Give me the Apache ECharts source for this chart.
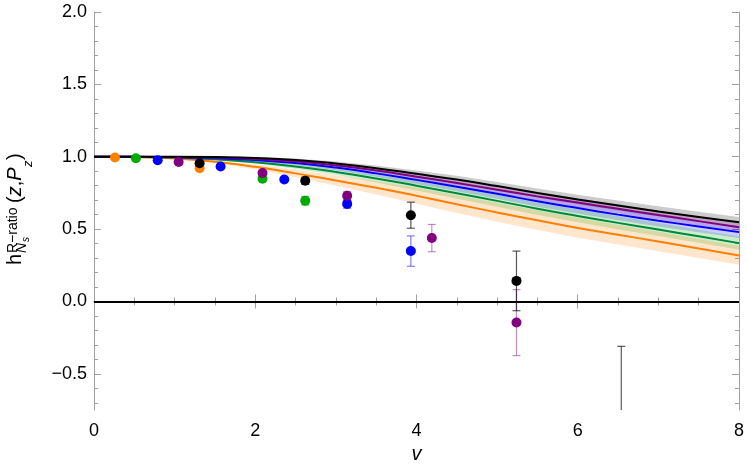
<!DOCTYPE html>
<html>
<head>
<meta charset="utf-8">
<script src="https://cdn.jsdelivr.net/npm/echarts@6/dist/echarts.min.js"></script>
<style>
  html, body { margin: 0; padding: 0; background: #fff; }
  #chart { width: 747px; height: 476px; }
</style>
</head>
<body>
<div id="chart"></div>
<script>
// model curves, sampled every 0.5 in v
const vGrid = [0, 0.5, 1, 1.5, 2, 2.5, 3, 3.5, 4, 4.5, 5, 5.5, 6, 6.5, 7, 7.5, 8];
const curveBlack  = [1.000, 1.000, 1.000, 0.998, 0.992, 0.978, 0.953, 0.921, 0.882, 0.842, 0.797, 0.750, 0.705, 0.663, 0.622, 0.584, 0.548];
const curvePurple = [1.000, 1.000, 0.998, 0.994, 0.985, 0.968, 0.940, 0.905, 0.862, 0.818, 0.772, 0.726, 0.683, 0.640, 0.597, 0.555, 0.513];
const curveBlue   = [1.000, 0.999, 0.997, 0.990, 0.977, 0.956, 0.925, 0.885, 0.840, 0.793, 0.744, 0.692, 0.645, 0.600, 0.558, 0.518, 0.479];
const curveGreen  = [1.000, 0.999, 0.994, 0.982, 0.962, 0.933, 0.895, 0.850, 0.800, 0.748, 0.695, 0.641, 0.591, 0.543, 0.497, 0.450, 0.403];
const curveOrange = [1.000, 0.998, 0.988, 0.965, 0.930, 0.885, 0.835, 0.785, 0.730, 0.672, 0.615, 0.561, 0.508, 0.461, 0.414, 0.366, 0.318];

// half widths of the uncertainty bands
const bandBlack  = [0, 0, 0.001, 0.003, 0.006, 0.010, 0.014, 0.018, 0.022, 0.026, 0.029, 0.031, 0.033, 0.034, 0.035, 0.035, 0.035];
const bandPurple = [0, 0, 0.001, 0.003, 0.006, 0.010, 0.014, 0.018, 0.022, 0.025, 0.027, 0.029, 0.030, 0.031, 0.031, 0.031, 0.031];
const bandBlue   = [0, 0, 0.002, 0.004, 0.008, 0.013, 0.018, 0.023, 0.028, 0.032, 0.035, 0.037, 0.038, 0.039, 0.040, 0.040, 0.040];
const bandGreen  = [0, 0, 0.002, 0.005, 0.010, 0.016, 0.022, 0.028, 0.034, 0.038, 0.041, 0.043, 0.044, 0.045, 0.045, 0.045, 0.045];
const bandOrange = [0, 0.001, 0.003, 0.008, 0.016, 0.026, 0.036, 0.046, 0.055, 0.061, 0.065, 0.067, 0.068, 0.068, 0.067, 0.066, 0.065];

// lattice points: [v, h, error]
const ptsOrange = [[0.26, 0.995, 0.005], [1.31, 0.921, 0.010]];
const ptsGreen  = [[0.52, 0.990, 0.005], [2.09, 0.848, 0.010], [2.62, 0.696, 0.030]];
const ptsBlue   = [[0.79, 0.976, 0.005], [1.57, 0.933, 0.010], [2.36, 0.843, 0.010], [3.14, 0.674, 0.030], [3.93, 0.348, 0.105]];
const ptsPurple = [[1.05, 0.964, 0.008], [2.09, 0.887, 0.010], [3.14, 0.730, 0.030], [4.19, 0.438, 0.094], [5.24, -0.146, 0.228]];
const ptsBlack  = [[1.31, 0.955, 0.008], [2.62, 0.834, 0.025], [3.93, 0.596, 0.090], [5.24, 0.142, 0.206], [6.54, -1.000, 0.690]];

const yTicks = [-0.5, 0, 0.5, 1, 1.5, 2];
const yMinorTicks = [];
for (let k = -7; k <= 20; k++) {
  if (k % 5 !== 0) yMinorTicks.push(k / 10);
}

const FONT = '"Liberation Sans", Arial, sans-serif';
const AXIS_GRAY = '#a0a0a0';

// shaded band between mid-half and mid+half, drawn as one polygon
function bandSeries(mid, half, color) {
  return {
    type: 'custom', silent: true, clip: true, z: 1,
    data: vGrid.map((v, i) => [v, mid[i] - half[i], mid[i] + half[i]]),
    encode: { x: 0, y: [1, 2] },
    renderItem: function (params, api) {
      if (params.dataIndex !== 0) return;
      var upper = [], lower = [];
      for (var i = 0; i < vGrid.length; i++) {
        upper.push(api.coord([vGrid[i], mid[i] + half[i]]));
        lower.push(api.coord([vGrid[i], mid[i] - half[i]]));
      }
      return {
        type: 'polygon',
        shape: { points: upper.concat(lower.reverse()) },
        style: { fill: color }
      };
    }
  };
}

function curveSeries(mid, color) {
  return {
    type: 'line', silent: true, symbol: 'none', smooth: true, z: 3,
    lineStyle: { color: color, width: 2 },
    data: vGrid.map((v, i) => [v, mid[i]])
  };
}

function errorSeries(pts, color) {
  return {
    type: 'custom', clip: true, silent: true, z: 4,
    data: pts,
    encode: { x: 0, y: 1 },
    renderItem: function (params, api) {
      var x = api.value(0), y = api.value(1), e = api.value(2);
      var top = api.coord([x, y + e]);
      var bot = api.coord([x, y - e]);
      var w = 4;
      var st = { stroke: color, lineWidth: 1.2 };
      return {
        type: 'group',
        children: [
          { type: 'line', shape: { x1: top[0], y1: top[1], x2: bot[0], y2: bot[1] }, style: st },
          { type: 'line', shape: { x1: top[0] - w, y1: top[1], x2: top[0] + w, y2: top[1] }, style: st },
          { type: 'line', shape: { x1: bot[0] - w, y1: bot[1], x2: bot[0] + w, y2: bot[1] }, style: st }
        ]
      };
    }
  };
}

function pointSeries(pts, color) {
  return {
    type: 'scatter', clip: true, silent: true, z: 5,
    symbolSize: 10,
    itemStyle: { color: color, opacity: 1 },
    data: pts.map(p => [p[0], p[1]])
  };
}

function fmtY(v) {
  var s = Math.abs(v).toFixed(1);
  return v < 0 ? '\u2212' + s : s;
}

var myChart = echarts.init(document.getElementById('chart'));

var blackLine = curveSeries(curveBlack, '#000000');
blackLine.markLine = {
  silent: true, symbol: 'none', animation: false,
  label: { show: false },
  lineStyle: { color: '#000', width: 2, type: 'solid' },
  data: [{ yAxis: 0 }]
};

var option = {
  animation: false,
  grid: { left: 94, right: 7, top: 12, bottom: 66 },
  xAxis: [
    {
      type: 'value', min: 0, max: 8, interval: 2, position: 'bottom',
      axisLine: { lineStyle: { color: AXIS_GRAY, width: 1 } },
      axisTick: { inside: true, length: 7, lineStyle: { color: AXIS_GRAY } },
      minorTick: { show: true, splitNumber: 4, length: 4, lineStyle: { color: AXIS_GRAY } },
      splitLine: { show: false },
      axisLabel: { color: '#000', fontSize: 18, fontFamily: FONT, margin: 12 },
      name: 'v', nameLocation: 'middle', nameGap: 24,
      nameTextStyle: { color: '#000', fontSize: 20, lineHeight: 12, fontStyle: 'italic', fontFamily: FONT }
    },
    {
      type: 'value', min: 0, max: 8, interval: 2, position: 'top',
      axisLine: { lineStyle: { color: AXIS_GRAY, width: 1 } },
      axisTick: { inside: true, length: 7, lineStyle: { color: AXIS_GRAY } },
      minorTick: { show: true, splitNumber: 4, length: 4, lineStyle: { color: AXIS_GRAY } },
      splitLine: { show: false },
      axisLabel: { show: false }
    }
  ],
  yAxis: [
    {
      type: 'value', min: -0.75, max: 2, position: 'left',
      axisLine: { show: true, lineStyle: { color: AXIS_GRAY, width: 1 } },
      axisTick: { show: true, inside: true, length: 7, customValues: yTicks, lineStyle: { color: AXIS_GRAY } },
      splitLine: { show: false },
      axisLabel: { color: '#000', fontSize: 18, fontFamily: FONT, margin: 7, customValues: yTicks, formatter: fmtY }
    },
    {
      type: 'value', min: -0.75, max: 2, position: 'left',
      axisLine: { show: false },
      axisTick: { show: true, inside: true, length: 4, customValues: yMinorTicks, lineStyle: { color: AXIS_GRAY } },
      splitLine: { show: false },
      axisLabel: { show: false }
    },
    {
      type: 'value', min: -0.75, max: 2, position: 'right',
      axisLine: { show: true, lineStyle: { color: AXIS_GRAY, width: 1 } },
      axisTick: { show: true, inside: true, length: 7, customValues: yTicks, lineStyle: { color: AXIS_GRAY } },
      splitLine: { show: false },
      axisLabel: { show: false }
    },
    {
      type: 'value', min: -0.75, max: 2, position: 'right',
      axisLine: { show: false },
      axisTick: { show: true, inside: true, length: 4, customValues: yMinorTicks, lineStyle: { color: AXIS_GRAY } },
      splitLine: { show: false },
      axisLabel: { show: false }
    }
  ],
  graphic: [
    {
      type: 'group', x: 22, y: 265, rotation: Math.PI / 2, silent: true,
      children: [
        { type: 'text', x: 0, y: -6.9, style: { text: 'h', font: '20px ' + FONT, fill: '#000', verticalAlign: 'middle' } },
        { type: 'text', x: 12, y: -8.9, style: { text: 'R\u2212ratio', font: '14px ' + FONT, fill: '#000', verticalAlign: 'middle' } },
        { type: 'text', x: 12, y: 0.4, style: { text: 'N', font: 'italic 14px ' + FONT, fill: '#000', verticalAlign: 'middle' } },
        { type: 'text', x: 23, y: 4.5, style: { text: 's', font: 'italic 10px ' + FONT, fill: '#000', verticalAlign: 'middle' } },
        {
          type: 'text', x: 62, y: -6.9,
          style: {
            text: '{n|(}{i|z}{n|,}{i|P}', verticalAlign: 'middle', fill: '#000',
            rich: {
              n: { fontSize: 20, fontFamily: FONT, color: '#000' },
              i: { fontSize: 20, fontFamily: FONT, fontStyle: 'italic', color: '#000' }
            }
          }
        },
        { type: 'text', x: 98, y: 6.0, style: { text: 'z', font: 'italic 13px ' + FONT, fill: '#000', verticalAlign: 'middle' } },
        { type: 'text', x: 105, y: -6.9, style: { text: ')', font: '20px ' + FONT, fill: '#000', verticalAlign: 'middle' } }
      ]
    }
  ],
  series: [
    bandSeries(curveBlack, bandBlack, 'rgba(0,0,0,0.2)'),
    bandSeries(curvePurple, bandPurple, 'rgba(128,0,128,0.2)'),
    bandSeries(curveBlue, bandBlue, 'rgba(0,0,255,0.2)'),
    bandSeries(curveGreen, bandGreen, 'rgba(0,170,0,0.2)'),
    bandSeries(curveOrange, bandOrange, 'rgba(255,128,0,0.2)'),
    curveSeries(curveOrange, '#ff7f00'),
    curveSeries(curveGreen, '#00883a'),
    curveSeries(curveBlue, '#0000ff'),
    curveSeries(curvePurple, '#800080'),
    blackLine,
    errorSeries(ptsOrange, 'rgba(255,128,0,0.6)'),
    errorSeries(ptsGreen, 'rgba(0,170,0,0.6)'),
    errorSeries(ptsBlue, 'rgba(0,0,255,0.5)'),
    errorSeries(ptsPurple, 'rgba(128,0,128,0.45)'),
    errorSeries(ptsBlack, 'rgba(0,0,0,0.65)'),
    pointSeries(ptsOrange, '#ff7f00'),
    pointSeries(ptsGreen, '#00aa00'),
    pointSeries(ptsBlue, '#0000ff'),
    pointSeries(ptsPurple, '#800080'),
    pointSeries(ptsBlack, '#000000')
  ]
};

option && myChart.setOption(option);
</script>
</body>
</html>
